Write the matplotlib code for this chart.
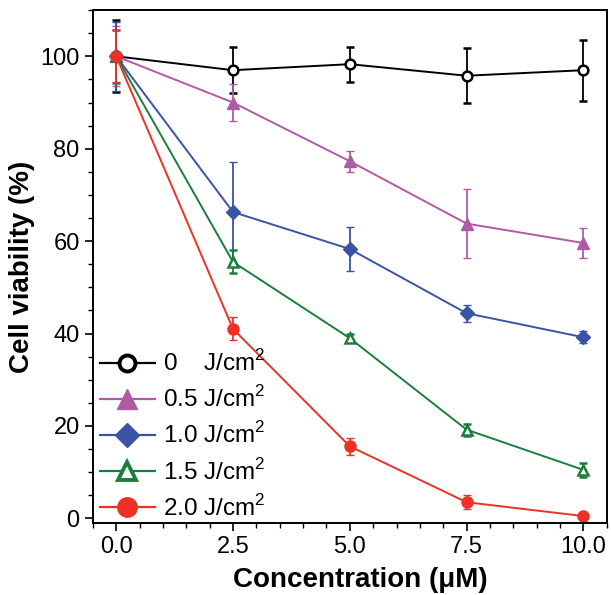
import matplotlib
matplotlib.use("Agg")
import matplotlib.pyplot as plt
from matplotlib.ticker import MultipleLocator
from matplotlib.lines import Line2D

plt.rcParams['font.family'] = ['Liberation Sans', 'DejaVu Sans']
plt.rcParams['mathtext.fontset'] = 'custom'
plt.rcParams['mathtext.rm'] = 'Liberation Sans'

conc = [0.0, 2.5, 5.0, 7.5, 10.0]
labels = ["0    J/cm$^2$", "0.5 J/cm$^2$", "1.0 J/cm$^2$", "1.5 J/cm$^2$", "2.0 J/cm$^2$"]
v0 = [100, 97.0, 98.3, 95.8, 97.0]
e0 = [7.8, 5.0, 3.8, 6.0, 6.6]
v05 = [100, 90.0, 77.3, 63.8, 59.6]
e05 = [6.5, 4.0, 2.3, 7.4, 3.3]
v10 = [100, 66.3, 58.3, 44.4, 39.2]
e10 = [7.5, 10.8, 4.8, 1.8, 1.3]
v15 = [100, 55.5, 39.0, 19.2, 10.5]
e15 = [5.8, 2.5, 0.8, 1.3, 1.5]
v20 = [100, 41.0, 15.6, 3.5, 0.5]
e20 = [5.6, 2.5, 1.8, 1.5, 0.3]

series = [v0, v05, v10, v15, v20]
errs = [e0, e05, e10, e15, e20]
colors = ['#000000', '#b05aa6', '#3a53a4', '#1b7f3c', '#ee3124']
markers = ['o', '^', 'D', '^', 'o']
mfcs = ['white', '#b05aa6', '#3a53a4', 'white', '#ee3124']
msizes = [7.0, 8.5, 7.0, 7.5, 8.0]
leg_ms = [11.5, 15.0, 12.5, 13.0, 14.0]

fig = plt.figure(figsize=(6.11, 5.95), dpi=100)
ax = fig.add_axes([0.152, 0.121, 0.841, 0.862])

handles = []
for y, e, c, m, mf, ms, lms in zip(series, errs, colors, markers, mfcs, msizes, leg_ms):
    open_m = (mf == 'white')
    ax.errorbar(conc, y, yerr=e, color=c, marker=m, mfc=mf, mec=c, ms=ms,
                mew=1.8 if open_m else 1.0, lw=1.4, elinewidth=1.3,
                capsize=3.2, capthick=1.3)
    handles.append(Line2D([], [], color=c, marker=m, mfc=mf, mec=c, ms=lms,
                          mew=2.8 if open_m else 1.0, lw=1.6))

ax.set_xlim(-0.5, 10.5)
ax.set_ylim(-1, 110)
ax.xaxis.set_minor_locator(MultipleLocator(0.5))
ax.yaxis.set_major_locator(MultipleLocator(20))
ax.yaxis.set_minor_locator(MultipleLocator(5))
ax.set_xticks(conc)
ax.set_xticklabels(["0.0", "2.5", "5.0", "7.5", "10.0"])
ax.tick_params(axis='both', which='major', direction='out', length=6, width=1.2, labelsize=17)
ax.tick_params(axis='both', which='minor', direction='out', length=3.5, width=1.0)
for s in ax.spines.values():
    s.set_linewidth(1.4)

ax.set_xlabel("Concentration (\u03bcM)", fontsize=20, fontweight='bold', labelpad=1)
ax.set_ylabel("Cell viability (%)", fontsize=20, fontweight='bold', labelpad=4)
ax.xaxis.set_label_coords(0.52, -0.085)

leg = ax.legend(handles=handles, labels=labels, loc='lower left', frameon=False,
                fontsize=17.5, handlelength=2.25, handletextpad=0.35,
                labelspacing=0.42, borderaxespad=0.0, borderpad=0.1,
                bbox_to_anchor=(0.009, 0.0))

fig.savefig("out.png", dpi=100)
